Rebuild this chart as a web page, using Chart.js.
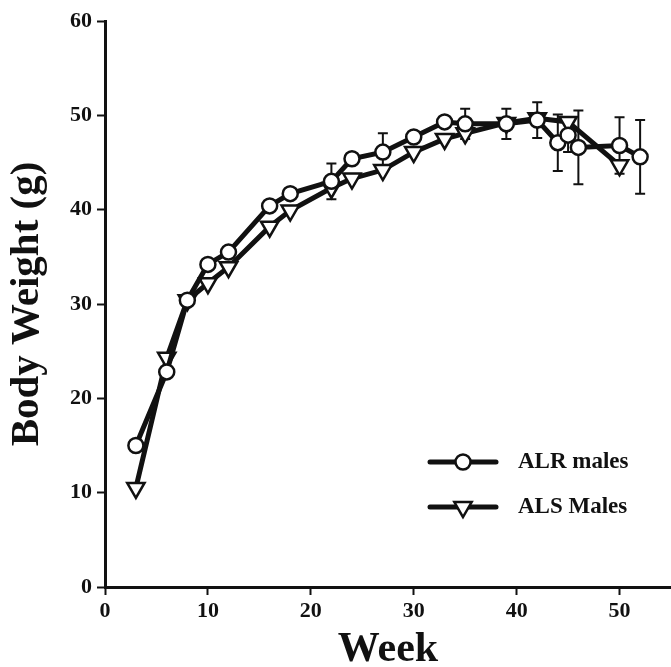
<!DOCTYPE html>
<html>
<head>
<meta charset="utf-8">
<script src="https://cdn.jsdelivr.net/npm/chart.js@4.4.0/dist/chart.umd.min.js"></script>
<style>
html, body { margin: 0; padding: 0; background: #fff; }
</style>
</head>
<body>
<canvas id="bw-chart" width="671" height="667"></canvas>
<script>
// values
var alrWeeks = [3, 6, 8, 10, 12, 16, 18, 22, 24, 27, 30, 33, 35, 39, 42, 44, 45, 46, 50, 52];
var alrWeight = [15.0, 22.8, 30.4, 34.2, 35.5, 40.4, 41.7, 43.0, 45.4, 46.1, 47.7, 49.3, 49.1, 49.1, 49.5, 47.1, 47.9, 46.6, 46.8, 45.6];
var alrErr = [0, 0, 0, 0, 0, 0, 0, 1.9, 0, 2.0, 0, 0, 1.6, 1.6, 1.9, 3.0, 1.8, 3.9, 3.0, 3.9];

var alsWeeks = [3, 6, 8, 10, 12, 16, 18, 22, 24, 27, 30, 33, 35, 39, 42, 45, 50];
var alsWeight = [10.5, 24.3, 30.4, 32.2, 33.9, 38.2, 39.9, 42.3, 43.3, 44.2, 46.1, 47.5, 48.1, 49.2, 49.7, 49.3, 44.7];

var xTicks = [0, 10, 20, 30, 40, 50];
var yTicks = [0, 10, 20, 30, 40, 50, 60];

var ink = '#111';
var serif = "'Liberation Serif', 'Times New Roman', serif";

function toPoints(xs, ys) {
    return xs.map(function (x, i) { return { x: x, y: ys[i] }; });
}

// error bars for the ALR series, drawn under the markers
var errorBars = {
    id: 'errorBars',
    beforeDatasetsDraw: function (chart) {
        var ctx = chart.ctx;
        var xs = chart.scales.x, ys = chart.scales.y;
        ctx.save();
        ctx.strokeStyle = ink;
        ctx.lineWidth = 2;
        alrWeeks.forEach(function (w, i) {
            if (!alrErr[i]) return;
            var px = xs.getPixelForValue(w);
            var top = ys.getPixelForValue(alrWeight[i] + alrErr[i]);
            var bot = ys.getPixelForValue(alrWeight[i] - alrErr[i]);
            ctx.beginPath();
            ctx.moveTo(px, top); ctx.lineTo(px, bot);
            ctx.moveTo(px - 5, top); ctx.lineTo(px + 5, top);
            ctx.moveTo(px - 5, bot); ctx.lineTo(px + 5, bot);
            ctx.stroke();
        });
        ctx.restore();
    }
};

// legend in the lower right of the plot
var lineLegend = {
    id: 'lineLegend',
    afterDraw: function (chart) {
        var ctx = chart.ctx;
        var rows = [
            { label: 'ALR males', y: 462, shape: 'circle' },
            { label: 'ALS Males', y: 507, shape: 'tri' }
        ];
        ctx.save();
        rows.forEach(function (r) {
            ctx.strokeStyle = ink;
            ctx.lineWidth = 5;
            ctx.lineCap = 'round';
            ctx.beginPath();
            ctx.moveTo(430, r.y); ctx.lineTo(496, r.y);
            ctx.stroke();
            ctx.lineCap = 'butt';
            ctx.lineWidth = 2.5;
            ctx.fillStyle = '#fff';
            ctx.beginPath();
            if (r.shape === 'circle') {
                ctx.arc(463, r.y, 7.5, 0, Math.PI * 2);
            } else {
                var rad = 10;
                ctx.moveTo(463, r.y + rad);
                ctx.lineTo(463 - rad * 0.866, r.y - rad / 2);
                ctx.lineTo(463 + rad * 0.866, r.y - rad / 2);
                ctx.closePath();
            }
            ctx.fill();
            ctx.stroke();
            ctx.fillStyle = ink;
            ctx.font = 'bold 23px ' + serif;
            ctx.textBaseline = 'middle';
            ctx.fillText(r.label, 518, r.y);
        });
        ctx.restore();
    }
};

var tickFont = { family: serif, size: 22, weight: 'bold' };

new Chart(document.getElementById('bw-chart'), {
    type: 'line',
    data: {
        datasets: [
            {
                label: 'ALR males',
                data: toPoints(alrWeeks, alrWeight),
                borderColor: ink,
                borderWidth: 5,
                pointStyle: 'circle',
                pointRadius: 7.5,
                pointBorderWidth: 2.5,
                pointBackgroundColor: '#fff',
                pointBorderColor: ink,
                tension: 0
            },
            {
                label: 'ALS Males',
                data: toPoints(alsWeeks, alsWeight),
                borderColor: ink,
                borderWidth: 5,
                pointStyle: 'triangle',
                rotation: 180,
                pointRadius: 10,
                pointBorderWidth: 2.5,
                pointBackgroundColor: '#fff',
                pointBorderColor: ink,
                tension: 0
            }
        ]
    },
    options: {
        responsive: false,
        animation: false,
        layout: { autoPadding: false, padding: { top: 21, right: 0, left: 0, bottom: 0 } },
        plugins: {
            legend: { display: false },
            tooltip: { enabled: false }
        },
        scales: {
            x: {
                type: 'linear',
                min: 0,
                max: 55,
                border: { color: ink, width: 3 },
                grid: { drawOnChartArea: false, drawTicks: true, tickLength: 8, tickWidth: 2, tickColor: ink },
                ticks: { font: tickFont, color: ink, padding: 3, maxRotation: 0 },
                afterBuildTicks: function (s) { s.ticks = xTicks.map(function (v) { return { value: v }; }); },
                afterFit: function (s) { s.height = 80; s.paddingRight = 0; s.paddingLeft = 0; },
                title: {
                    display: true,
                    text: 'Week',
                    color: ink,
                    padding: 0,
                    font: { family: serif, size: 42, weight: 'bold', lineHeight: 0.8 }
                }
            },
            y: {
                min: 0,
                max: 60,
                border: { color: ink, width: 3 },
                grid: { drawOnChartArea: false, drawTicks: true, tickLength: 8, tickWidth: 2, tickColor: ink },
                ticks: { font: tickFont, color: ink, padding: 5 },
                afterBuildTicks: function (s) { s.ticks = yTicks.map(function (v) { return { value: v }; }); },
                afterFit: function (s) { s.width = 105; },
                title: {
                    display: true,
                    text: 'Body Weight (g)',
                    color: ink,
                    padding: { top: 7, bottom: 0 },
                    font: { family: serif, size: 41, weight: 'bold', lineHeight: 1 }
                }
            }
        }
    },
    plugins: [errorBars, lineLegend]
});
</script>
</body>
</html>
